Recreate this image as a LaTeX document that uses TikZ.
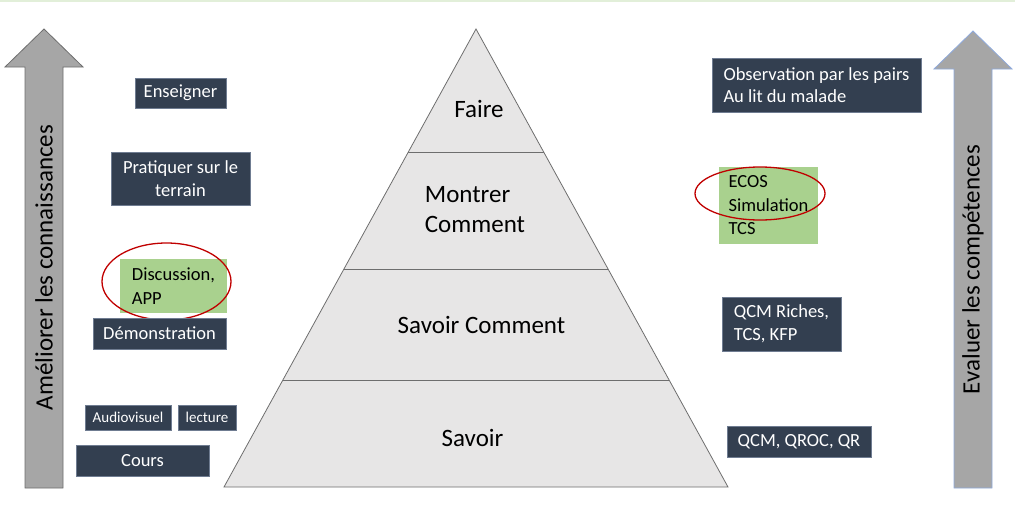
\documentclass[tikz,border=0pt]{standalone}
\usepackage{fontspec}
\setmainfont{Carlito}
\usetikzlibrary{calc}
\definecolor{boxdark}{HTML}{333F50}
\definecolor{boxedge}{HTML}{6F7C91}
\definecolor{boxgreen}{HTML}{A9D18E}
\definecolor{pyrfill}{HTML}{E7E6E6}
\definecolor{pyredge}{HTML}{6E6E6E}
\definecolor{arrowgray}{HTML}{A6A6A6}
\definecolor{ringred}{HTML}{C00000}
\definecolor{topline}{HTML}{E2EFD9}
\definecolor{blueedge}{HTML}{8FAADC}

\begin{document}
\begin{tikzpicture}[x=1pt,y=-1pt,
  dbox/.style={fill=boxdark,draw=boxedge,line width=0.6pt,text=white,inner sep=0pt,
    align=left,font=\fontsize{18.5}{22.5}\selectfont},
  gbox/.style={fill=boxgreen,inner sep=0pt,align=left,font=\fontsize{18.5}{23.5}\selectfont},
  ring/.style={draw=ringred,line width=1.3pt},
  lvl/.style={font=\fontsize{25}{30}\selectfont,align=left},
  bigarrow/.style={fill=arrowgray,line width=0.8pt},
  side/.style={rotate=90,font=\fontsize{25}{30}\selectfont}]
\useasboundingbox (0,0) rectangle (1015,514);
\draw[topline,line width=1.5pt] (0,0.75) -- (1015,0.75);

\draw[bigarrow,draw=pyredge] (25,488) -- (25,67) -- (5,67) -- (44,29) -- (83,67) -- (63,67) -- (63,488) -- cycle;
\node[side] (ameliorer) at (44,267.5) {Améliorer les connaissances};
\draw[bigarrow,draw=blueedge] (954,488) -- (954,69) -- (934,69) -- (973,31) -- (1012,69) -- (992,69) -- (992,488) -- cycle;
\node[side] (evaluer) at (973,269.5) {Evaluer les compétences};

\coordinate (apex) at (476,29);
\coordinate (bl) at (224,487);
\coordinate (br) at (728,487);
\draw[fill=pyrfill,draw=pyredge,line width=0.8pt] (apex) -- (br) -- (bl) -- cycle;
\foreach \t in {0.2686,0.524,0.7664}
  \draw[pyredge,line width=0.8pt] ($(apex)!\t!(bl)$) -- ($(apex)!\t!(br)$);
\node[lvl] (faire) at (479,109) {Faire};
\node[lvl] (montrer) at (475,210) {Montrer\\Comment};
\node[lvl] (savoircomment) at (481.5,325) {Savoir Comment};
\node[lvl] (savoir) at (472.5,438) {Savoir};

\node[dbox,minimum width=91,minimum height=30] (enseigner) at (180.5,93) {Enseigner};
\node[dbox,minimum width=139,minimum height=53,align=center] (pratiquer) at (180.5,178.5) {Pratiquer sur le\\terrain};
\node[gbox,minimum width=107,minimum height=54] (discussion) at (173.5,286) {Discussion,\\APP};
\draw[ring] (166.5,281.5) ellipse [x radius=64.5,y radius=38.5];
\node[dbox,minimum width=133,minimum height=31] (demonstration) at (159.5,333.5) {Démonstration};
\node[dbox,minimum width=86,minimum height=25,font=\fontsize{15}{18}\selectfont] (audiovisuel) at (128,417.5) {Audiovisuel};
\node[dbox,minimum width=58,minimum height=25,font=\fontsize{15}{18}\selectfont] (lecture) at (207,417.5) {lecture};
\node[dbox,minimum width=133,minimum height=31] (cours) at (142.5,460.5) {Cours};

\node[dbox,minimum width=209,minimum height=54] (observation) at (816.5,85) {Observation par les pairs\\Au lit du malade};
\node[gbox,minimum width=99,minimum height=77] (ecos) at (768.5,205.5) {ECOS\\Simulation\\TCS};
\draw[ring] (760,193.5) ellipse [x radius=65,y radius=26.5];
\node[dbox,minimum width=119,minimum height=54] (qcmriches) at (781.5,324) {QCM Riches,\\TCS, KFP};
\node[dbox,minimum width=144,minimum height=31] (qcm) at (799,441.5) {QCM, QROC, QR};
\end{tikzpicture}
\end{document}
